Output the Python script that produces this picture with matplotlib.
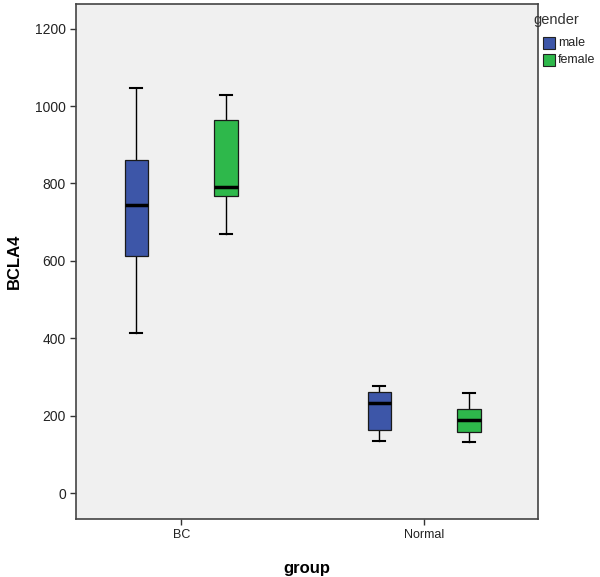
import matplotlib
matplotlib.use("Agg")
import matplotlib.pyplot as plt
from matplotlib.patches import Rectangle

plt.rcParams['font.family'] = ['Liberation Sans', 'DejaVu Sans']

groups = ["BC", "Normal"]
genders = ["male", "female"]
colors = {"male": "#3D56A8", "female": "#2EB84B"}
# five-number summaries: whisker low, q1, median, q3, whisker high
stats = {
    ("BC", "male"):       [413, 613, 745, 861, 1047],
    ("BC", "female"):     [669, 767, 790, 964, 1029],
    ("Normal", "male"):   [134, 164, 232, 260, 277],
    ("Normal", "female"): [133, 159, 189, 216, 259],
}
yticks = [0, 200, 400, 600, 800, 1000, 1200]

fig = plt.figure(figsize=(6.0, 5.77), dpi=100)
ax = fig.add_axes([0.127, 0.1005, 0.770, 0.892])
ax.set_facecolor("#F0F0F0")

offset = 0.185
bw = 0.097
for gi, g in enumerate(groups):
    for si, s in enumerate(genders):
        lo, q1, med, q3, hi = stats[(g, s)]
        x = gi + (-offset if si == 0 else offset)
        ax.plot([x, x], [q3, hi], color="black", lw=1.0, zorder=2)
        ax.plot([x, x], [lo, q1], color="black", lw=1.0, zorder=2)
        cw = bw * 0.5
        ax.plot([x - cw / 2, x + cw / 2], [hi, hi], color="black", lw=1.5, zorder=2)
        ax.plot([x - cw / 2, x + cw / 2], [lo, lo], color="black", lw=1.5, zorder=2)
        ax.add_patch(Rectangle((x - bw / 2, q1), bw, q3 - q1, facecolor=colors[s],
                               edgecolor="#1a1a1a", lw=0.9, zorder=3))
        ax.plot([x - bw / 2, x + bw / 2], [med, med], color="black", lw=2.5, zorder=4,
                solid_capstyle="butt")

ax.set_xlim(-0.4325, 1.469)
ax.set_ylim(-67, 1263)
ax.set_xticks(range(len(groups)))
ax.set_xticklabels(groups, fontsize=9, color="#222222")
ax.set_yticks(yticks)
ax.set_yticklabels([str(t) for t in yticks], fontsize=10, color="#222222")
ax.tick_params(axis="both", length=4, width=1.0, color="#333333")
for sp in ax.spines.values():
    sp.set_color("#444444")
    sp.set_linewidth(1.2)

ax.set_xlabel("group", fontsize=12, fontweight="bold", labelpad=14)
ax.set_ylabel("BCLA4", fontsize=12, fontweight="bold", labelpad=9)

# legend
fig.text(556 / 600, 1 - 20 / 577, "gender", fontsize=10.5, ha="center", va="center", color="#333333")
for i, s in enumerate(genders):
    yc = 1 - (43 + 17 * i) / 577
    fig.patches.append(Rectangle((543 / 600, yc - 6 / 577), 12 / 600, 12 / 577,
                                 transform=fig.transFigure, facecolor=colors[s],
                                 edgecolor="#222222", lw=0.8, figure=fig))
    fig.text(558 / 600, yc, s, fontsize=9, ha="left", va="center", color="#222222")

fig.savefig("out.png", dpi=100, facecolor="white")
